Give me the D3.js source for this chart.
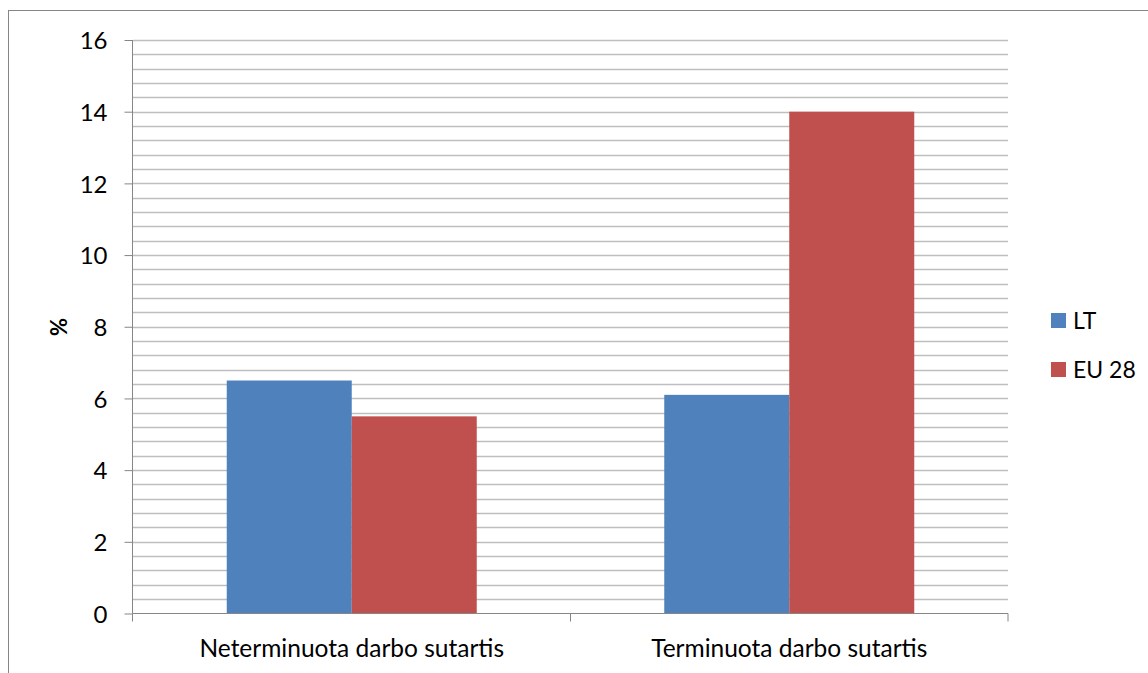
<!DOCTYPE html>
<html><head><meta charset="utf-8">
<script src="https://cdn.jsdelivr.net/npm/d3@7"></script>
<style>body{margin:0;background:#fff}svg{display:block}text{font-family:Lato,"Open Sans",sans-serif;fill:#000}</style>
</head><body>
<script>
const categories = ["Neterminuota darbo sutartis", "Terminuota darbo sutartis"];
const seriesNames = ["LT", "EU 28"];
const seriesLT = [6.5, 6.1];
const seriesEU = [5.5, 14];
const yTicks = [0, 2, 4, 6, 8, 10, 12, 14, 16];
const colors = ["#4F81BD", "#C0504D"];

(function () {
const W = 1148, H = 673;
const svg = d3.select("body").append("svg").attr("width", W).attr("height", H);

svg.append("rect").attr("x", 8.5).attr("y", 10.5).attr("width", W + 10).attr("height", H + 10)
  .attr("fill", "none").attr("stroke", "#868686").attr("stroke-width", 1);

const pLeft = 133, pRight = 1008, pTop = 40, pBottom = 613.5;
const y = d3.scaleLinear().domain([0, 16]).range([pBottom, pTop]);
const x0 = d3.scaleBand().domain(categories).range([pLeft, pRight]).paddingInner(0).paddingOuter(0);
// gap width 150%: outer padding each side = 0.75 bar width
const x1 = d3.scaleBand().domain(seriesNames).range([0, x0.bandwidth()]).paddingInner(0).paddingOuter(0.75);

// minor gridlines every 0.4
const grid = d3.range(0, 16.0001, 0.4).filter(v => v > 0.01);
svg.append("g").selectAll("line").data(grid).join("line")
  .attr("x1", pLeft).attr("x2", pRight)
  .attr("y1", d => Math.round(y(d)) + 0.5).attr("y2", d => Math.round(y(d)) + 0.5)
  .attr("stroke", "#BEBEBE").attr("stroke-width", 1.3);

const data = categories.map((c, i) => ({c, vals: [seriesLT[i], seriesEU[i]]}));
const g = svg.append("g");
data.forEach(d => {
  d.vals.forEach((v, j) => {
    g.append("rect")
      .attr("x", x0(d.c) + x1(seriesNames[j]))
      .attr("width", x1.bandwidth())
      .attr("y", y(v))
      .attr("height", y(0) - y(v))
      .attr("fill", colors[j]);
  });
});

// y axis
const yAxis = d3.axisLeft(y).tickValues(yTicks).tickSize(8).tickPadding(17).tickFormat(d3.format("d"));
const ya = svg.append("g").attr("transform", `translate(${pLeft - 0.5},0)`).call(yAxis);
ya.select(".domain").attr("stroke", "#868686").attr("d", `M0,${pTop}V${pBottom}`);
ya.selectAll(".tick line").attr("stroke", "#868686");
ya.selectAll(".tick text").style("font-size", "24px").attr("dy", "0.36em").style("font-family", "Lato");

// x axis
const xa = svg.append("g").attr("transform", `translate(0,${pBottom})`);
xa.append("line").attr("x1", pLeft - 0.5).attr("x2", pRight).attr("y1", 0).attr("y2", 0).attr("stroke", "#868686");
const bounds = [pLeft - 0.5, ...categories.map(c => x0(c) + x0.bandwidth())];
xa.selectAll("line.t").data(bounds).join("line").attr("class", "t")
  .attr("x1", d => d).attr("x2", d => d).attr("y1", 0).attr("y2", 8).attr("stroke", "#868686");
xa.selectAll("text").data(categories).join("text")
  .attr("x", d => x0(d) + x0.bandwidth() / 2).attr("y", 43)
  .attr("text-anchor", "middle").style("font-size", "24.5px").text(d => d);

// y label
svg.append("text").attr("transform", "translate(67,327) rotate(-90)")
  .attr("text-anchor", "middle").style("font-size", "22px").style("font-weight", "bold").text("%");

// legend
const leg = svg.append("g");
seriesNames.forEach((s, i) => {
  const yy = 313 + i * 49;
  leg.append("rect").attr("x", 1051).attr("y", yy).attr("width", 15).attr("height", 15).attr("fill", colors[i]);
  leg.append("text").attr("x", 1073).attr("y", yy + 16).style("font-size", "23px").text(s);
});
})();
</script>
</body></html>
